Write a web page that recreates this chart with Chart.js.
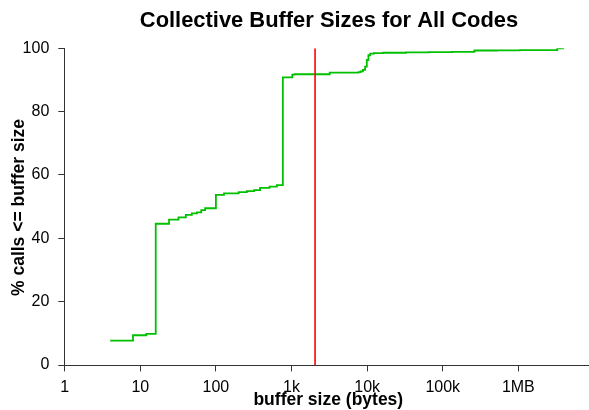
<!DOCTYPE html>
<html><head><meta charset="utf-8">
<script src="https://cdn.jsdelivr.net/npm/chart.js@4"></script>
<style>html,body{margin:0;padding:0;background:#fff;overflow:hidden}canvas{display:block}</style>
</head><body>
<canvas id="c" width="589" height="410"></canvas>
<script>
const titleText = 'Collective Buffer Sizes for All Codes';
const xTitle = 'buffer size (bytes)';
const yTitle = '% calls <= buffer size';

const bufferSizes = [4, 8, 12, 16, 24, 32, 40, 48, 56, 64, 72, 100, 128, 200, 256, 320, 384, 512, 640, 768, 1024, 1100, 3200, 7680, 8192, 8800, 9400, 9900, 10400, 11000, 12288, 16384, 32768, 65536, 131072, 262144, 524288, 1048576, 2097152, 3276800, 4000000];
const cumulativePct = [7.7, 9.4, 9.8, 44.6, 45.9, 46.6, 47.4, 47.9, 48.2, 48.9, 49.5, 53.7, 54.2, 54.6, 54.9, 55.2, 55.9, 56.3, 56.8, 90.8, 91.7, 91.8, 92.3, 92.5, 92.7, 93.2, 94.2, 96.3, 97.8, 98.3, 98.5, 98.6, 98.7, 98.8, 98.9, 99.3, 99.35, 99.4, 99.45, 100, 100];
const thresholdSize = 2048;
const thresholdPct = [0, 100];

const xTickValues = [1, 10, 100, 1000, 10000, 100000, 1000000];
const xTickLabels = ['1', '10', '100', '1k', '10k', '100k', '1MB'];
const yTickValues = [0, 20, 40, 60, 80, 100];

const FONT = '"Liberation Sans", Arial, Helvetica, sans-serif';

const textPlugin = {
  id: 'texts',
  afterDraw(chart) {
    const ctx = chart.ctx;
    ctx.save();
    ctx.fillStyle = '#000';
    ctx.textAlign = 'center';
    ctx.textBaseline = 'alphabetic';
    ctx.font = 'bold 21.9px ' + FONT;
    ctx.fillText(titleText, 329, 27);
    ctx.font = 'bold 17.5px ' + FONT;
    ctx.fillText(xTitle, 328.3, 405);
    ctx.translate(23.5, 207.5);
    ctx.rotate(-Math.PI / 2);
    ctx.fillText(yTitle, 0, 0);
    ctx.restore();
  }
};

new Chart(document.getElementById('c'), {
  type: 'line',
  data: {
    datasets: [
      {
        data: thresholdPct.map(p => ({x: thresholdSize, y: p})),
        borderColor: '#ff0000',
        borderWidth: 1.6,
        pointRadius: 0,
        tension: 0
      },
      {
        data: bufferSizes.map((s, i) => ({x: s, y: cumulativePct[i]})),
        borderColor: '#00c000',
        borderWidth: 1.8,
        pointRadius: 0,
        stepped: true,
        tension: 0
      }
    ]
  },
  options: {
    responsive: false,
    animation: false,
    events: [],
    layout: {padding: {top: 48.3, right: 0, bottom: 0, left: 0}},
    plugins: {legend: {display: false}, title: {display: false}, tooltip: {enabled: false}},
    scales: {
      x: {
        type: 'logarithmic',
        min: 1,
        max: 8.6e6,
        afterBuildTicks: s => { s.ticks = xTickValues.map(v => ({value: v})); },
        afterFit: s => { s.height = 45; },
        ticks: {
          autoSkip: false, maxRotation: 0, minRotation: 0, padding: 7,
          color: '#000', font: {family: FONT, size: 16},
          callback: (v, i) => xTickLabels[i]
        },
        grid: {drawOnChartArea: false, drawTicks: true, tickLength: 6.4, color: '#333', lineWidth: 1},
        border: {display: true, color: '#333', width: 1}
      },
      y: {
        type: 'linear',
        min: 0,
        max: 100,
        afterBuildTicks: s => { s.ticks = yTickValues.map(v => ({value: v})); },
        afterFit: s => { s.width = 64.7; },
        ticks: {
          padding: 9, color: '#000', font: {family: FONT, size: 16},
          callback: v => String(v)
        },
        grid: {drawOnChartArea: false, drawTicks: true, tickLength: 6.4, color: '#333', lineWidth: 1},
        border: {display: true, color: '#333', width: 1}
      }
    }
  },
  plugins: [textPlugin]
});
</script>
</body></html>
